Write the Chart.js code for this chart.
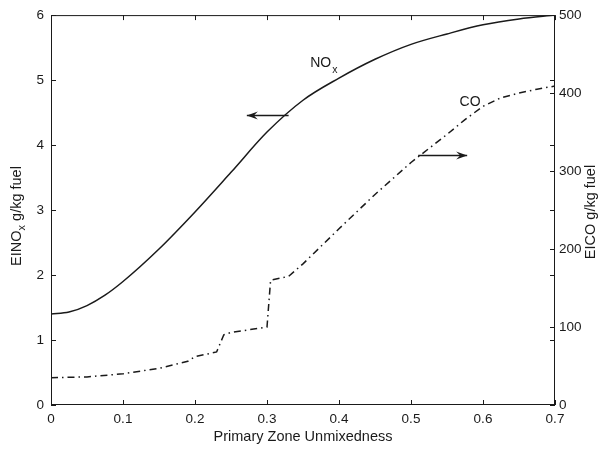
<!DOCTYPE html>
<html><head><meta charset="utf-8">
<script src="https://cdn.jsdelivr.net/npm/chart.js@4/dist/chart.umd.min.js"></script>
<style>html,body{margin:0;padding:0;background:#fff}#wrap{width:603px;height:450px}</style>
</head><body><div id="wrap"><canvas id="c" width="603" height="450"></canvas></div>
<script>
const unmixedness = [0,0.025,0.05,0.075,0.1,0.15,0.2,0.25,0.3,0.35,0.4,0.45,0.5,0.55,0.6,0.65,0.7];
const einox = [1.40,1.43,1.53,1.69,1.90,2.40,2.97,3.58,4.20,4.69,5.03,5.32,5.55,5.71,5.85,5.94,6.00];
const coX = [0,0.05,0.1,0.15,0.19,0.2,0.23,0.24,0.25,0.3,0.305,0.33,0.35,0.4,0.45,0.5,0.55,0.575,0.6,0.625,0.65,0.675,0.7];
const eico = [35,36,40,47,56,62,68,90,93,100,160,165,181,226,270,311,347,366,383,394,400,405,409];
const xTicks = [0,0.1,0.2,0.3,0.4,0.5,0.6,0.7];
const leftTicks = [0,1,2,3,4,5,6];
const rightTicks = [0,100,200,300,400,500];

const FONT = 'Liberation Sans, Arial, Helvetica, sans-serif';
const INK = '#1a1a1a';
const TF = 14.5;

const decor = {
  id:'decor',
  afterDraw(chart){
    const {ctx, chartArea:a, scales:{x,y,y2}} = chart;
    ctx.save();
    ctx.strokeStyle = INK; ctx.lineWidth = 1;
    ctx.strokeRect(a.left+0.5, a.top+0.5, a.right-a.left-1, a.bottom-a.top-1);
    ctx.beginPath();
    const tl = 5;
    xTicks.forEach(v=>{const p=Math.round(x.getPixelForValue(v))+0.5;
      ctx.moveTo(p,a.bottom); ctx.lineTo(p,a.bottom-tl);
      ctx.moveTo(p,a.top); ctx.lineTo(p,a.top+tl);});
    leftTicks.forEach(v=>{const p=Math.round(y.getPixelForValue(v))+0.5;
      ctx.moveTo(a.left,p); ctx.lineTo(a.left+tl,p);
      ctx.moveTo(a.right,p); ctx.lineTo(a.right-tl,p);});
    rightTicks.forEach(v=>{const p=Math.round(y2.getPixelForValue(v))+0.5;
      ctx.moveTo(a.right,p); ctx.lineTo(a.right-tl,p);});
    ctx.stroke();

    // axis titles
    ctx.fillStyle = INK;
    ctx.font = TF+'px '+FONT;
    ctx.textAlign='center'; ctx.textBaseline='middle';
    ctx.fillText('Primary Zone Unmixedness', (a.left+a.right)/2, 437);
    const cy = 216;
    ctx.save();
    ctx.translate(17, cy); ctx.rotate(-Math.PI/2);
    const p1='EINO', p2='x', p3=' g/kg fuel';
    ctx.font=TF+'px '+FONT; const w1=ctx.measureText(p1).width, w3=ctx.measureText(p3).width;
    ctx.font='11px '+FONT; const w2=ctx.measureText(p2).width;
    let sx = -(w1+w2+w3)/2;
    ctx.textAlign='left';
    ctx.font=TF+'px '+FONT; ctx.fillText(p1, sx, 0);
    ctx.font='11px '+FONT; ctx.fillText(p2, sx+w1, 5);
    ctx.font=TF+'px '+FONT; ctx.fillText(p3, sx+w1+w2, 0);
    ctx.restore();
    ctx.save();
    ctx.translate(591, 212); ctx.rotate(-Math.PI/2);
    ctx.textAlign='center'; ctx.font=TF+'px '+FONT;
    ctx.fillText('EICO g/kg fuel', 0, 0);
    ctx.restore();

    // annotations
    const arrow=(x0,x1,yy)=>{
      ctx.beginPath(); ctx.moveTo(x0,yy); ctx.lineTo(x1,yy); ctx.lineWidth=1.3; ctx.stroke();
      const d = x1>x0?1:-1;
      ctx.beginPath(); ctx.moveTo(x1,yy); ctx.lineTo(x1-d*11,yy-4); ctx.lineTo(x1-d*7,yy); ctx.lineTo(x1-d*11,yy+4); ctx.closePath(); ctx.fill();
    };
    const ny = Math.round(y.getPixelForValue(4.47))+0.5;
    arrow(x.getPixelForValue(0.33), x.getPixelForValue(0.272), ny);
    const cyy = Math.round(y2.getPixelForValue(321))+0.5;
    arrow(x.getPixelForValue(0.51), x.getPixelForValue(0.578), cyy);
    ctx.textAlign='left'; ctx.textBaseline='alphabetic';
    ctx.font='14px '+FONT;
    const nx = x.getPixelForValue(0.36), nyy = y.getPixelForValue(5.2);
    ctx.fillText('NO', nx, nyy);
    const wn = ctx.measureText('NO').width;
    ctx.font='10.5px '+FONT; ctx.fillText('x', nx+wn+1, nyy+6);
    ctx.font='14px '+FONT; ctx.textAlign='center';
    ctx.fillText('CO', x.getPixelForValue(0.582), y2.getPixelForValue(383));
    ctx.restore();
  }
};

new Chart(document.getElementById('c'), {
  type:'line',
  data:{
    datasets:[
      {label:'NOx', data: unmixedness.map((v,i)=>({x:v,y:einox[i]})), yAxisID:'y',
       borderColor:INK, borderWidth:1.5, pointRadius:0, cubicInterpolationMode:'monotone', fill:false},
      {label:'CO', data: coX.map((v,i)=>({x:v,y:eico[i]})), yAxisID:'y2',
       borderColor:INK, borderWidth:1.5, borderDash:[7,4,1.5,4], pointRadius:0, tension:0, fill:false}
    ]
  },
  options:{
    responsive:false, animation:false,
    layout:{padding:{top:13,left:0,right:0,bottom:0}},
    plugins:{legend:{display:false}, tooltip:{enabled:false}},
    scales:{
      x:{type:'linear', position:'bottom', min:0, max:0.7,
         afterBuildTicks:s=>{s.ticks = xTicks.map(v=>({value:v}));},
         ticks:{padding:6, color:INK, font:{family:FONT,size:13.5}, maxRotation:0,
           callback:v=>String(Math.round(v*10)/10)},
         grid:{display:false, drawTicks:false}, border:{display:false},
         afterFit:s=>{s.height=45;}},
      y:{type:'linear', position:'left', min:0, max:6,
         afterBuildTicks:s=>{s.ticks = leftTicks.map(v=>({value:v}));},
         ticks:{padding:7, color:INK, font:{family:FONT,size:13.5}},
         grid:{display:false, drawTicks:false}, border:{display:false},
         afterFit:s=>{s.width=51;}},
      y2:{type:'linear', position:'right', min:0, max:500,
         afterBuildTicks:s=>{s.ticks = rightTicks.map(v=>({value:v}));},
         ticks:{padding:4, color:INK, font:{family:FONT,size:13.5}},
         grid:{display:false, drawTicks:false}, border:{display:false},
         afterFit:s=>{s.width=48;}}
    }
  },
  plugins:[decor]
});
</script></body></html>
